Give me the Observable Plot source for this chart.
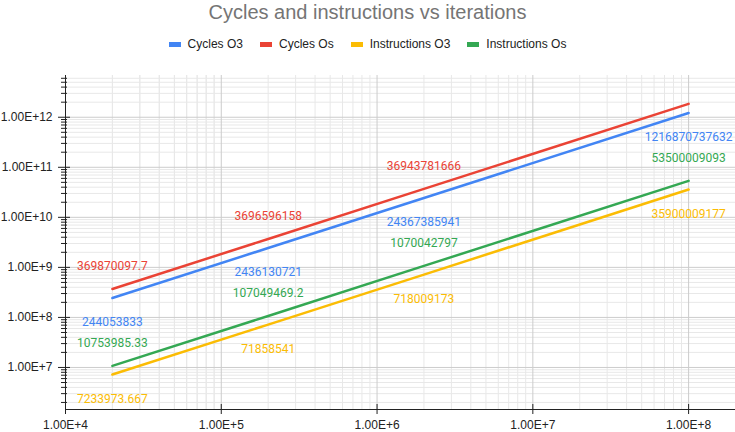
<!DOCTYPE html>
<html>
<head>
<meta charset="utf-8">
<script src="https://cdn.jsdelivr.net/npm/d3@7"></script>
<script src="https://cdn.jsdelivr.net/npm/@observablehq/plot@0.6"></script>
<style>
  html, body { margin: 0; padding: 0; background: #fff; }
  #wrap { position: relative; width: 735px; height: 432px; font-family: "Liberation Sans", Arial, sans-serif; }
  #title { position: absolute; left: 0; top: 0; width: 735px; text-align: center; font-size: 20px; line-height: 24px; color: #757575; }
  #legend { position: absolute; left: 0; top: 37px; width: 735px; display: flex; justify-content: center; gap: 17px; font-size: 12px; line-height: 14px; color: #222; }
  .item { display: flex; align-items: center; }
  .sw { width: 12px; height: 5px; margin-right: 7px; }
  #chart { position: absolute; left: 0; top: 60px; }
</style>
</head>
<body>
<div id="wrap">
  <div id="title">Cycles and instructions vs iterations</div>
  <div id="legend"></div>
  <div id="chart"></div>
</div>
<script>
// ---- data ----
const iterations = [20000, 200000, 2000000, 100000000];
const seriesNames = ["Cycles O3", "Cycles Os", "Instructions O3", "Instructions Os"];
const seriesColors = ["#4285F4", "#EA4335", "#FBBC04", "#34A853"];
const cyclesO3 = [244053833, 2436130721, 24367385941, 1216870737632];
const cyclesOs = [369870097.7, 3696596158, 36943781666, 1847000000000];
const instructionsO3 = [7233973.667, 71858541, 718009173, 35900009177];
const instructionsOs = [10753985.33, 107049469.2, 1070042797, 53500009093];
const labelShown = [
  [true, true, true, true],
  [true, true, true, false],
  [true, true, true, true],
  [true, true, true, true]
];
const xTickValues = [1e4, 1e5, 1e6, 1e7, 1e8];
const yTickValues = [1e7, 1e8, 1e9, 1e10, 1e11, 1e12];
const minorMultiples = [2, 3, 4, 5, 6, 7, 8, 9];
const xDomain = [1e4, 2e8];
const yDomain = [Math.pow(10, 6.16), Math.pow(10, 12.834)];

// ---- build ----
const allValues = [cyclesO3, cyclesOs, instructionsO3, instructionsOs];
const rows = seriesNames.flatMap((s, i) =>
  iterations.map((x, j) => ({ series: s, x, y: allValues[i][j], show: labelShown[i][j] })));

const minorX = [1e4, ...xTickValues].flatMap(d => minorMultiples.map(m => d * m))
  .filter(v => v > xDomain[0] && v < xDomain[1]);
const minorY = [1e6, ...yTickValues].flatMap(d => minorMultiples.map(m => d * m))
  .filter(v => v > yDomain[0] && v < yDomain[1]);
const fmt = d => "1.00E+" + Math.round(Math.log10(d));
const blank = () => "";

// legend
const legend = document.getElementById("legend");
seriesNames.forEach((s, i) => {
  const it = document.createElement("div");
  it.className = "item";
  it.innerHTML = `<span class="sw" style="background:${seriesColors[i]}"></span><span>${s}</span>`;
  legend.appendChild(it);
});

const labelsAbove = rows.filter(d => d.show && d.series.endsWith("Os"));
const labelsBelow = rows.filter(d => d.show && d.series.endsWith("O3"));

const chart = Plot.plot({
  width: 735,
  height: 372,
  marginLeft: 65,
  marginRight: 0,
  marginTop: 15,
  marginBottom: 23,
  style: { fontFamily: "'Liberation Sans', Arial, sans-serif", fontSize: "12px", background: "#fff", overflow: "visible" },
  x: { type: "log", domain: xDomain },
  y: { type: "log", domain: yDomain },
  color: { domain: seriesNames, range: seriesColors },
  marks: [
    Plot.gridX(minorX, { stroke: "#e8e8e8", strokeOpacity: 1 }),
    Plot.gridY(minorY, { stroke: "#e8e8e8", strokeOpacity: 1 }),
    Plot.gridX(xTickValues, { stroke: "#cccccc", strokeOpacity: 1 }),
    Plot.gridY(yTickValues, { stroke: "#cccccc", strokeOpacity: 1 }),
    Plot.frame({ anchor: "bottom", stroke: "#222" }),
    Plot.ruleX([xDomain[0]], { y1: Math.pow(10, 6.07), y2: yDomain[1], stroke: "#222" }),
    Plot.line(rows, { x: "x", y: "y", z: "series", stroke: "series", strokeWidth: 2.5 }),
    Plot.text(labelsAbove, { x: "x", y: "y", text: d => String(d.y), fill: "series", dy: -23, fontSize: 12, fontFamily: "Roboto, sans-serif" }),
    Plot.text(labelsBelow, { x: "x", y: "y", text: d => String(d.y), fill: "series", dy: 24.5, fontSize: 12, fontFamily: "Roboto, sans-serif" }),
    Plot.axisX(xTickValues, { tickSize: 10, dy: -5, tickFormat: blank, stroke: "#222", label: null }),
    Plot.axisX(xTickValues, { tickFormat: fmt, tickSize: 0, tickPadding: 11, fill: "#222", fontSize: 12, label: null }),
    Plot.axisY(yTickValues, { tickSize: 12, dx: 5, tickFormat: blank, stroke: "#222", label: null }),
    Plot.axisY(minorY, { tickSize: 6, dx: 2, tickFormat: blank, stroke: "#222", label: null }),
    Plot.axisY(yTickValues, { tickFormat: fmt, tickSize: 0, tickPadding: 13, fill: "#222", fontSize: 12, label: null })
  ]
});
document.getElementById("chart").appendChild(chart);
</script>
</body>
</html>
